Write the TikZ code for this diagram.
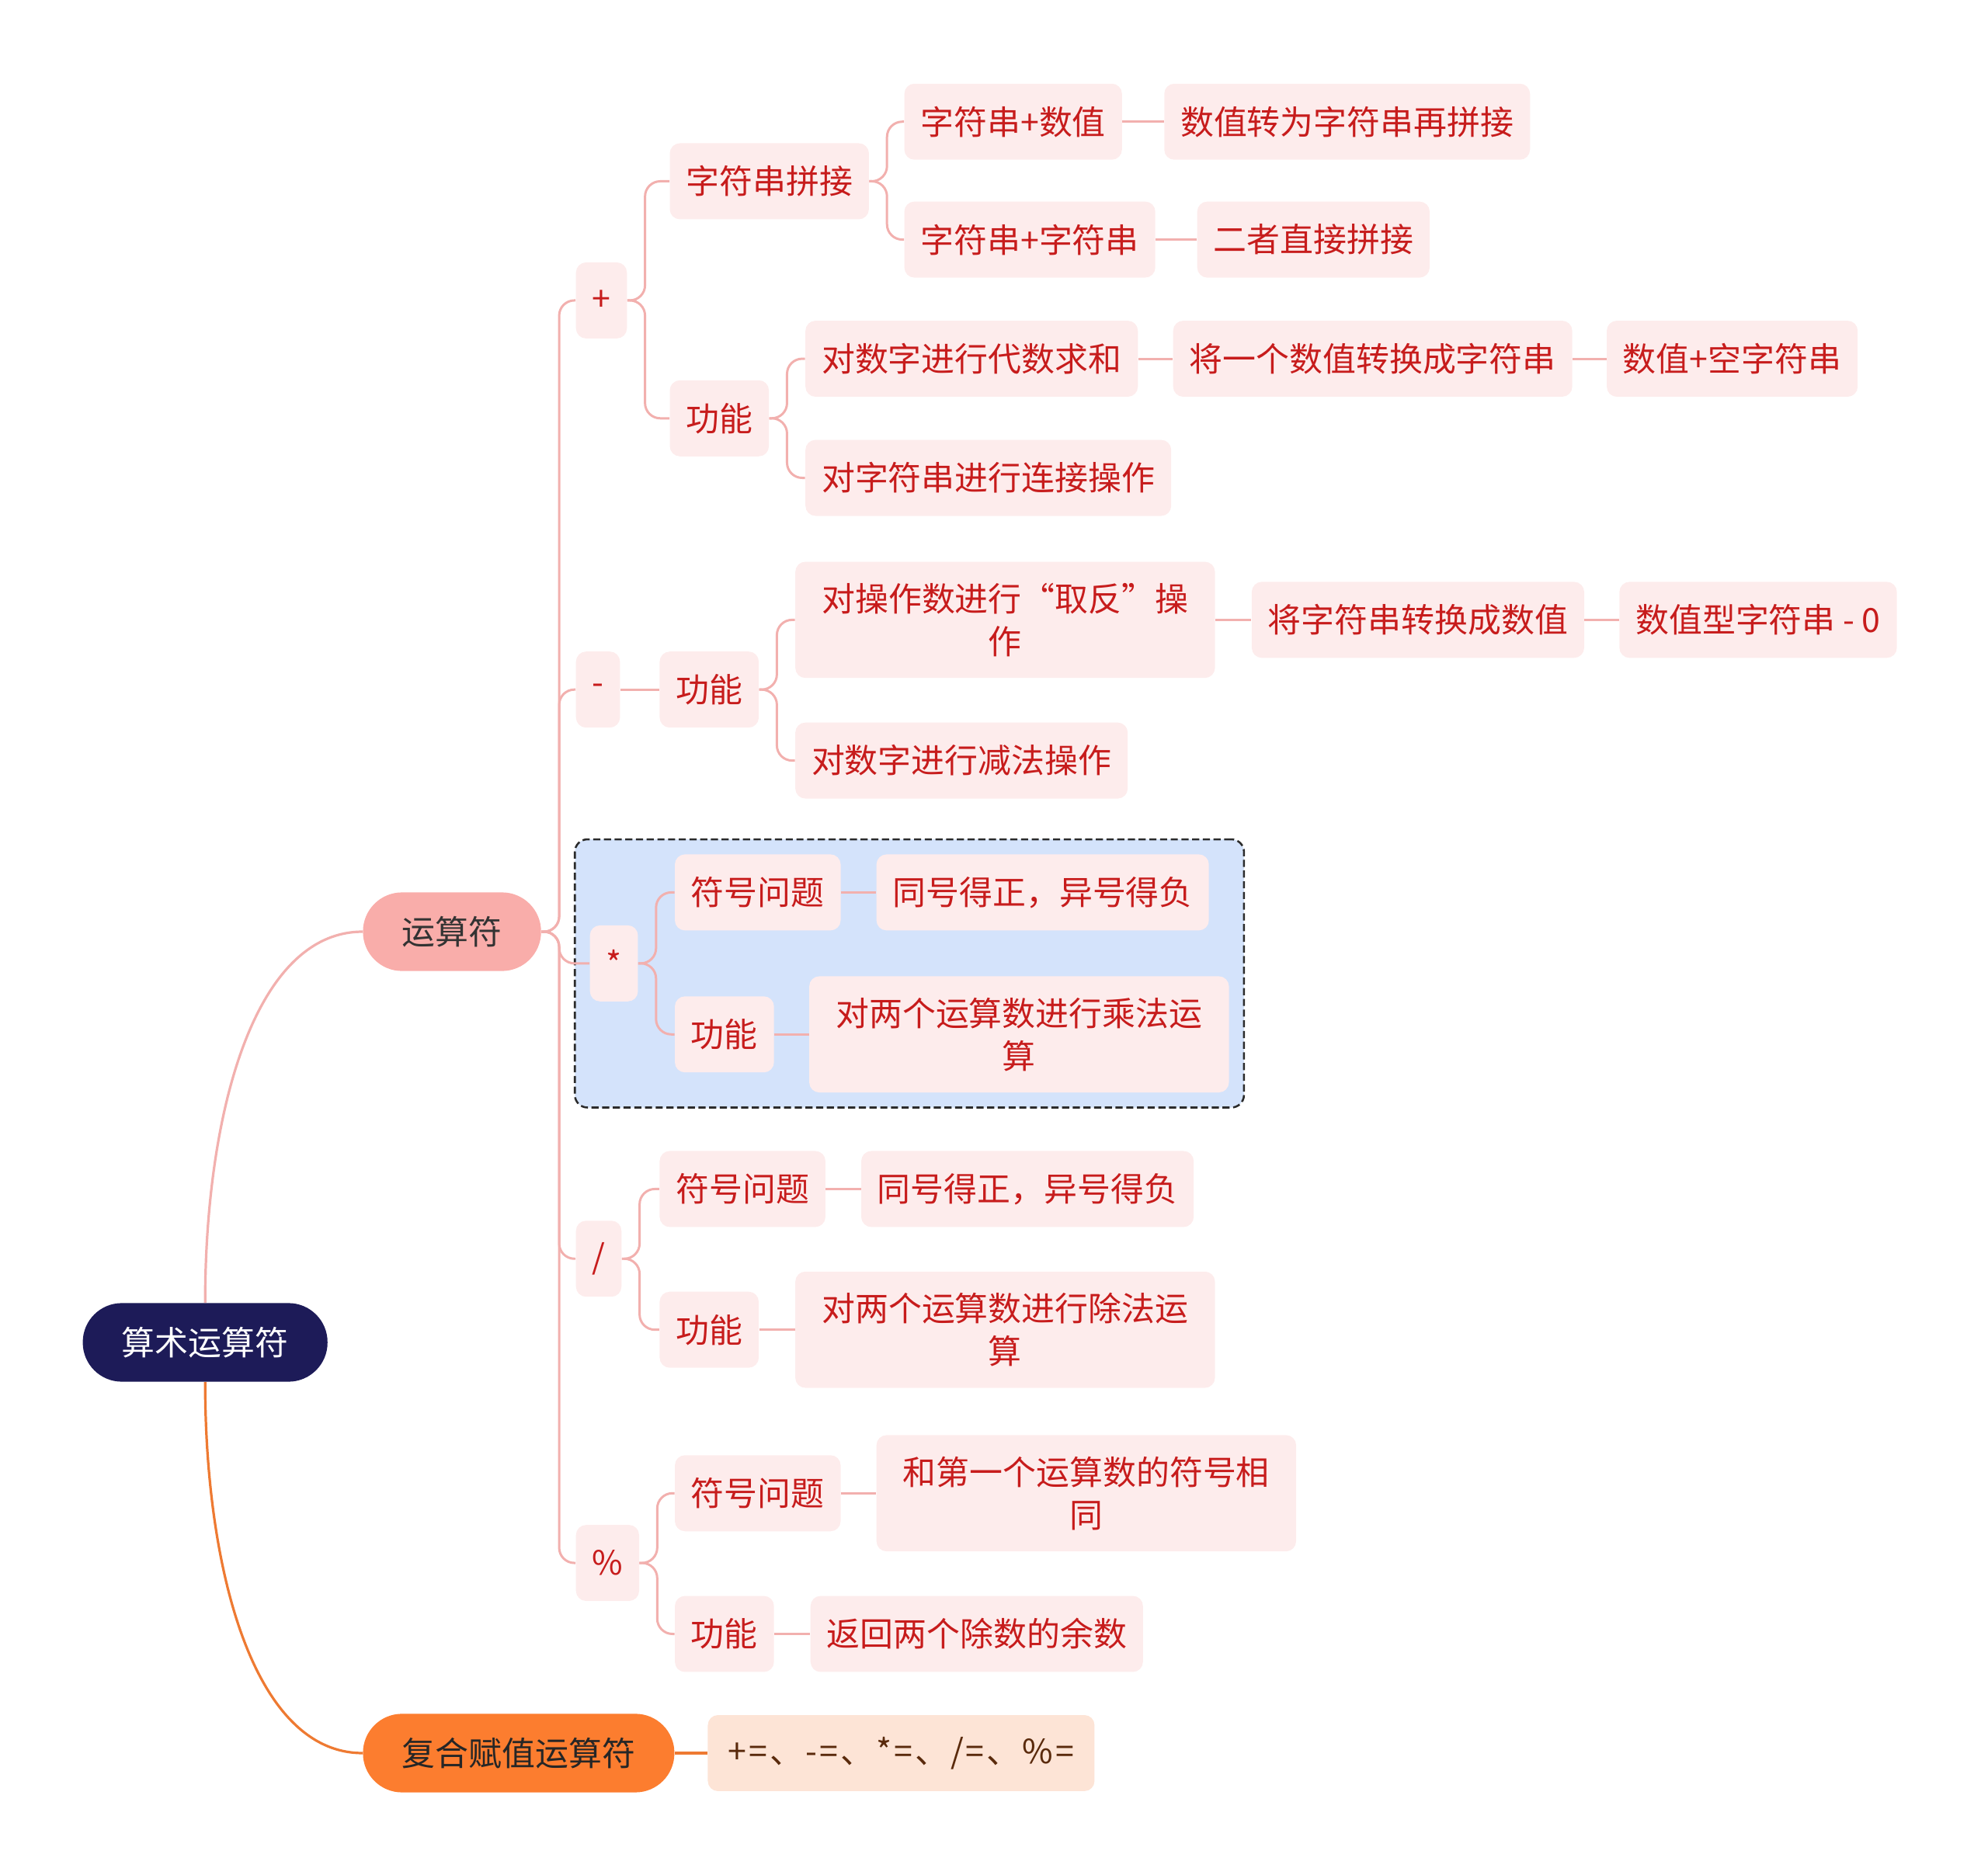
\documentclass[tikz,border=0pt]{standalone}
\usepackage{fontspec}
\usepackage{tikz}
\usetikzlibrary{positioning, backgrounds, fit}
\newfontfamily\cjk{Noto Sans CJK SC}
\definecolor{rootnavy}{HTML}{1D1B58}
\definecolor{oppink}{HTML}{F9ADAA}
\definecolor{comporange}{HTML}{FC7D2F}
\definecolor{compfill}{HTML}{FDE4D6}
\definecolor{compbrown}{HTML}{5A2A0C}
\definecolor{leaffill}{HTML}{FDECEC}
\definecolor{leafred}{HTML}{C71C1C}
\definecolor{linkpink}{HTML}{F2B0AE}
\definecolor{linkorange}{HTML}{EE7A32}
\definecolor{groupblue}{HTML}{D4E3FB}
\definecolor{dashgray}{HTML}{2B2B2B}

\begin{document}
\begin{tikzpicture}[x=0.25mm, y=-0.25mm,
    every node/.style={font=\cjk\fontsize{18.7}{24}\selectfont},
    pill/.style={rounded corners=7.7mm, minimum height=15.5mm, inner xsep=7.7mm, inner ysep=0pt, anchor=west},
    leaf/.style={fill=leaffill, text=leafred, rounded corners=2mm, minimum height=15mm, inner xsep=3.2mm, inner ysep=4.2mm, anchor=west},
    wide/.style={leaf, align=center, minimum width=82.75mm},
    groupbox/.style={draw=dashgray, fill=groupblue, dash pattern=on 4pt off 2pt, line width=1.1pt, rounded corners=2.5mm, inner sep=2.9mm},
    branch/.style={draw=linkpink, line width=1.3pt, rounded corners=3mm},
    link/.style={draw=linkpink, line width=1.3pt},
    orangelink/.style={draw=linkorange, line width=1.4pt}]
\useasboundingbox (0,0) rectangle (1568,1479);

% main topics
\node[pill, fill=rootnavy, text=white] (root) at (65,1059) {算术运算符};
\node[pill, fill=oppink, text=black!80] (op) at (286,735) {运算符};
\node[pill, fill=comporange, text=black!85] (comp) at (286,1383) {复合赋值运算符};
\node[leaf, fill=compfill, text=compbrown, minimum width=76.25mm] (compr) at (558,1383) {\addfontfeature{LetterSpace=7}+=、-=、*=、/=、\%=};

% operators
\node[leaf] (plus) at (454,237) {+};
\node[leaf] (minus) at (454,544) {-};
\node[leaf] (mul) at (465,760) {*};
\node[leaf] (div) at (454,993) {/};
\node[leaf] (mod) at (454,1233) {\%};

% +
\node[leaf] (pconcat) at (528,143) {字符串拼接};
\node[leaf] (pfunc) at (528,330) {功能};
\node[leaf] (psn) at (713,96) {字符串+数值};
\node[leaf] (psnr) at (918,96) {数值转为字符串再拼接};
\node[leaf] (pss) at (713,189) {字符串+字符串};
\node[leaf] (pssr) at (944,189) {二者直接拼接};
\node[leaf] (pf1) at (635,283) {对数字进行代数求和};
\node[leaf] (pf1a) at (925,283) {将一个数值转换成字符串};
\node[leaf] (pf1b) at (1267,283) {数值+空字符串};
\node[leaf] (pf2) at (635,377) {对字符串进行连接操作};

% -
\node[leaf] (mfunc) at (520,544) {功能};
\node[wide] (mf1) at (627,489) {对操作数进行“取反”操\\作};
\node[leaf] (mf1a) at (987,489) {将字符串转换成数值};
\node[leaf] (mf1b) at (1277,489) {数值型字符串 - 0};
\node[leaf] (mf2) at (627,600) {对数字进行减法操作};

% *
\node[leaf] (msign) at (532,704) {符号问题};
\node[leaf] (msignr) at (691,704) {同号得正，异号得负};
\node[leaf] (mfun) at (532,816) {功能};
\node[wide] (mfunr) at (638,816) {对两个运算数进行乘法运\\算};

% /
\node[leaf] (dsign) at (520,938) {符号问题};
\node[leaf] (dsignr) at (679,938) {同号得正，异号得负};
\node[leaf] (dfun) at (520,1049) {功能};
\node[wide] (dfunr) at (627,1049) {对两个运算数进行除法运\\算};

% %
\node[leaf] (osign) at (532,1178) {符号问题};
\node[wide] (osignr) at (691,1178) {和第一个运算数的符号相\\同};
\node[leaf] (ofun) at (532,1289) {功能};
\node[leaf] (ofunr) at (639,1289) {返回两个除数的余数};

\begin{scope}[on background layer]
\node[groupbox, fit=(mul)(msign)(msignr)(mfun)(mfunr)] (mulgroup) {};
\end{scope}

% connectors
\draw[link, line width=1.4pt] (root.north) .. controls +(0,-148) and +(-86,0) .. (op.west);
\draw[orangelink] (root.south) .. controls +(0,148) and +(-86,0) .. (comp.west);
\draw[orangelink] (comp.east) -- (compr.west);

\foreach \k in {plus,minus,mul,div,mod}
  \draw[branch] (op.east) -- ++(14,0) |- (\k.west);

\draw[branch] (plus.east) -- ++(14,0) |- (pconcat.west);
\draw[branch] (plus.east) -- ++(14,0) |- (pfunc.west);
\draw[branch] (pconcat.east) -- ++(14,0) |- (psn.west);
\draw[branch] (pconcat.east) -- ++(14,0) |- (pss.west);
\draw[link] (psn.east) -- (psnr.west);
\draw[link] (pss.east) -- (pssr.west);
\draw[branch] (pfunc.east) -- ++(14,0) |- (pf1.west);
\draw[branch] (pfunc.east) -- ++(14,0) |- (pf2.west);
\draw[link] (pf1.east) -- (pf1a.west);
\draw[link] (pf1a.east) -- (pf1b.west);

\draw[link] (minus.east) -- (mfunc.west);
\draw[branch] (mfunc.east) -- ++(14,0) |- (mf1.west);
\draw[branch] (mfunc.east) -- ++(14,0) |- (mf2.west);
\draw[link] (mf1.east) -- (mf1a.west);
\draw[link] (mf1a.east) -- (mf1b.west);

\draw[branch] (mul.east) -- ++(14,0) |- (msign.west);
\draw[branch] (mul.east) -- ++(14,0) |- (mfun.west);
\draw[link] (msign.east) -- (msignr.west);
\draw[link] (mfun.east) -- (mfunr.west);

\draw[branch] (div.east) -- ++(14,0) |- (dsign.west);
\draw[branch] (div.east) -- ++(14,0) |- (dfun.west);
\draw[link] (dsign.east) -- (dsignr.west);
\draw[link] (dfun.east) -- (dfunr.west);

\draw[branch] (mod.east) -- ++(14,0) |- (osign.west);
\draw[branch] (mod.east) -- ++(14,0) |- (ofun.west);
\draw[link] (osign.east) -- (osignr.west);
\draw[link] (ofun.east) -- (ofunr.west);
\end{tikzpicture}
\end{document}
